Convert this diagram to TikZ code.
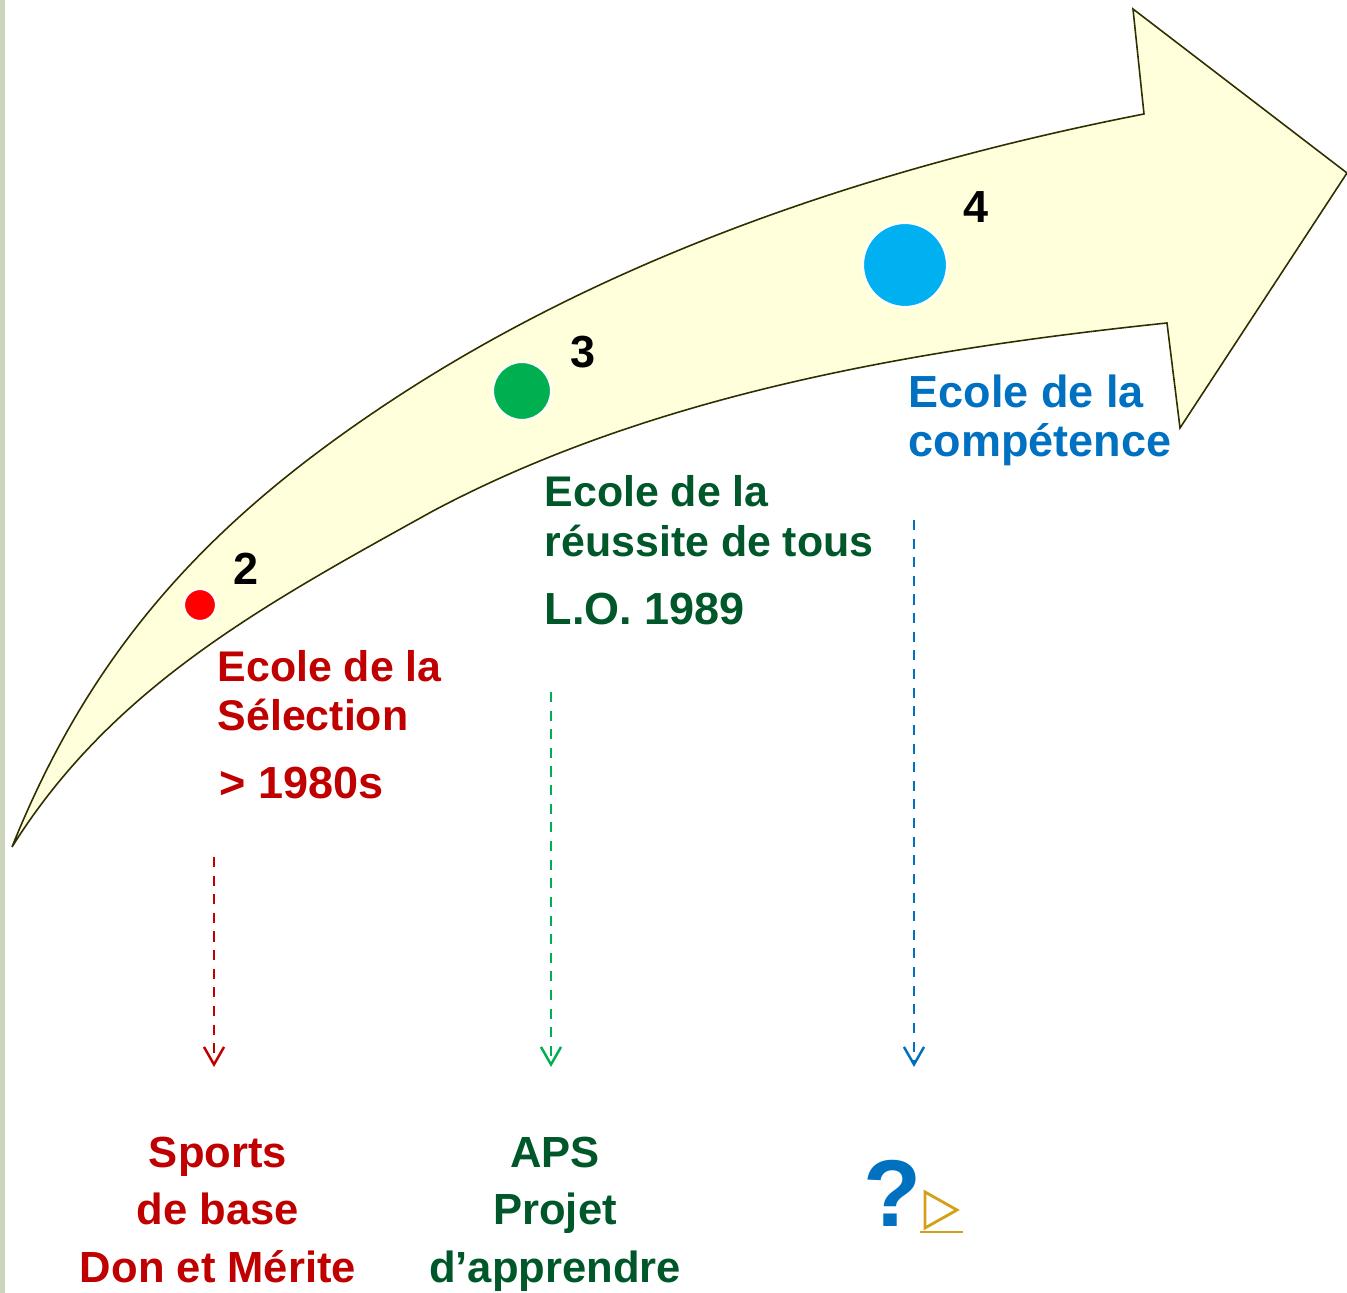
\documentclass[tikz,border=0pt]{standalone}
\usepackage{fontspec}
\setmainfont{Liberation Sans}
\usetikzlibrary{arrows.meta}
\definecolor{selred}{HTML}{C00000}
\definecolor{reusgreen}{HTML}{00582A}
\definecolor{compblue}{HTML}{0070C0}
\definecolor{dotgreen}{HTML}{00B050}
\definecolor{dotblue}{HTML}{00B0F0}
\definecolor{arrowfill}{HTML}{FFFFDC}
\definecolor{arrowline}{HTML}{2E2E00}
\definecolor{barcol}{HTML}{CDD4BC}
\definecolor{gold}{HTML}{D4A017}
\tikzset{
	lbl/.style={inner sep=0, anchor=base west, font=\bfseries\fontsize{12.2}{14}\selectfont},
	lblbig/.style={lbl, font=\bfseries\fontsize{12.8}{15}\selectfont},
	lblc/.style={inner sep=0, anchor=base, font=\bfseries\fontsize{12.4}{14}\selectfont},
	num/.style={inner sep=0, anchor=base west, font=\bfseries\fontsize{12.8}{15}\selectfont},
	dashdown/.style={line width=0.7pt, dash pattern=on 2.85pt off 2.45pt, -{Straight Barb[length=5pt,width=5.7pt]}},
	dot/.style={draw=white, line width=0.6pt},
}

\begin{document}
\begin{tikzpicture}
			%%%%% FRAME %%%%%
			\useasboundingbox (0, 0) rectangle (13.47, 12.93);
			\fill[barcol] (0, 0) rectangle (0.05, 12.93);
			
			%%%%% BIG ARROW %%%%%
			\filldraw[fill=arrowfill, draw=arrowline, line width=0.45pt, line join=miter]
				(0.12, 4.46) .. controls (0.94, 6.50) and (2.155, 7.78) .. (4.00, 8.98)
				.. controls (6.22, 10.42) and (8.84, 11.28) .. (11.44, 11.79)
				-- (11.33, 12.84) -- (13.47, 11.20) -- (11.80, 8.65) -- (11.67, 9.70)
				.. controls (9.184, 9.439) and (6.537, 8.993) .. (4.33, 7.82)
				.. controls (2.668, 6.899) and (1.127, 6.071) .. (0.12, 4.46) -- cycle;
			
			%%%%% DOTS %%%%%
			\filldraw[dot, fill=red] (2.00, 6.88) circle (0.16);
			\filldraw[dot, fill=dotgreen] (5.22, 9.02) circle (0.29);
			\filldraw[dot, fill=dotblue] (9.05, 10.28) circle (0.42);
			
			\node[num] (n2) at (2.33, 7.08) {2};
			\node[num] (n3) at (5.70, 9.25) {3};
			\node[num] (n4) at (9.63, 10.70) {4};
			
			%%%%% LABELS %%%%%
			\node[lbl, color=selred] (sel1) at (2.17, 6.11) {Ecole de la};
			\node[lbl, color=selred] (sel2) at (2.17, 5.62) {Sélection};
			\node[lblbig, color=selred] (sel3) at (2.19, 4.94) {> 1980s};
			
			\node[lbl, color=reusgreen] (reu1) at (5.44, 7.86) {Ecole de la};
			\node[lbl, color=reusgreen] (reu2) at (5.44, 7.36) {réussite de tous};
			\node[lblbig, color=reusgreen] (reu3) at (5.44, 6.68) {L.O. 1989};
			
			\node[lblbig, color=compblue] (comp1) at (9.08, 8.85) {Ecole de la};
			\node[lblbig, color=compblue] (comp2) at (9.08, 8.36) {compétence};
			
			%%%%% DOWN ARROWS %%%%%
			\coordinate (selTop) at (2.14, 4.36);
			\coordinate (selBot) at (2.14, 2.26);
			\coordinate (reuTop) at (5.51, 6.01);
			\coordinate (reuBot) at (5.51, 2.26);
			\coordinate (compTop) at (9.14, 7.73);
			\coordinate (compBot) at (9.14, 2.26);
			\draw[dashdown, color=selred] (selTop) -- (selBot);
			\draw[dashdown, color=dotgreen] (reuTop) -- (reuBot);
			\draw[dashdown, color=compblue] (compTop) -- (compBot);
			
			%%%%% BOTTOM %%%%%
			\node[lblc, color=selred] (sp1) at (2.18, 1.25) {Sports};
			\node[lblc, color=selred] (sp2) at (2.18, 0.68) {de base};
			\node[lblc, color=selred] (sp3) at (2.18, 0.10) {Don et Mérite};
			
			\node[lblc, color=reusgreen] (aps1) at (5.55, 1.25) {APS};
			\node[lblc, color=reusgreen] (aps2) at (5.55, 0.68) {Projet};
			\node[lblc, color=reusgreen] (aps3) at (5.55, 0.10) {d’apprendre};
			
			\node[inner sep=0, anchor=base west, color=compblue, font=\bfseries\fontsize{27}{30}\selectfont] (qm) at (8.63, 0.66) {?};
			\draw[gold, line width=0.8pt, line join=miter] (9.25, 1.01) -- (9.57, 0.83) -- (9.25, 0.65) -- cycle;
			\draw[gold, line width=0.8pt] (9.20, 0.61) -- (9.63, 0.61);
			
			%%%%% END %%%%%
\end{tikzpicture}
\end{document}
